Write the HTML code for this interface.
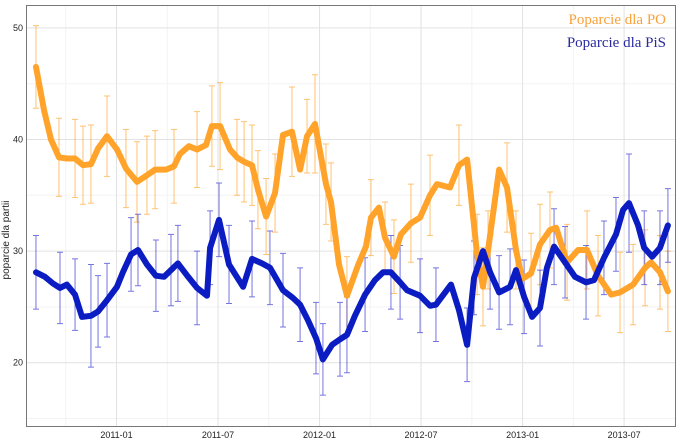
<!DOCTYPE html>
<html><head><meta charset="utf-8"><style>
body{margin:0;background:#fff;}
svg{display:block;font-family:"Liberation Sans",sans-serif;}
</style></head><body>
<svg id="chart" width="684" height="444" viewBox="0 0 684 444">
<rect x="26.5" y="5.5" width="649" height="421" fill="#fff" stroke="none"/>
<g id="grid"></g>
<g id="bars"></g>
<g id="lines"></g>
<rect x="26.5" y="5.5" width="649" height="421" fill="none" stroke="#777" stroke-width="1"/>
<g id="axes"></g>
<text x="9" y="240" transform="rotate(-90 9 240)" text-anchor="middle" font-size="10" fill="#222">poparcie dla partii</text>
<text x="666" y="24" text-anchor="end" font-family="'Liberation Serif',serif" font-size="15" fill="#f9a13a">Poparcie dla PO</text>
<text x="666" y="47" text-anchor="end" font-family="'Liberation Serif',serif" font-size="15" fill="#2a2aa0">Poparcie dla PiS</text>
</svg>
<script>
// months relative to 2011-01
const poMonths=[-4.76,-4.28,-3.87,-3.40,-2.93,-2.45,-1.98,-1.51,-1.09,-0.56,0.03,0.56,1.21,1.80,2.28,2.93,3.40,3.75,4.28,4.76,5.29,5.64,6.12,6.71,7.12,7.54,8.01,8.36,8.84,9.37,9.84,10.37,10.85,11.26,11.73,12.38,12.68,13.15,13.62,14.27,14.74,15.04,15.51,15.87,16.40,16.81,17.40,17.94,18.53,18.94,19.71,20.24,20.72,21.31,21.66,21.96,22.61,23.08,23.61,23.97,24.50,25.03,25.62,25.98,26.63,27.28,27.81,28.46,29.23,29.76,30.53,31.24,31.59,32.12,32.59];
const poValues=[46.5,42.6,40.0,38.4,38.3,38.3,37.7,37.8,39.2,40.3,39.1,37.4,36.2,36.8,37.3,37.3,37.6,38.7,39.4,39.1,39.5,41.2,41.2,39.1,38.4,38.0,37.7,35.5,33.1,35.2,40.4,40.7,37.3,40.3,41.4,36.0,34.4,28.8,26.0,28.7,30.4,33.0,33.9,31.2,29.5,31.5,32.5,33.0,35.0,36.0,35.7,37.7,38.2,29.7,26.8,30.1,37.3,35.7,30.1,27.5,28.0,30.6,31.9,32.1,29.0,30.1,30.1,27.8,26.1,26.3,27.0,28.5,29.0,28.1,26.4];
const poErr=[3.7,0,0,3.5,0,3.5,3.5,3.5,0,3.6,0,3.5,3.6,3.5,3.5,0,3.3,0,0,3.4,0,3.6,3.9,0,3.4,3.6,3.6,3.5,3.4,3.5,0,4.0,0,3.3,4.4,3.6,3.5,0,3.5,0,0,3.4,0,3.2,3.3,0,3.5,0,3.6,0,0,3.6,0,3.6,3.5,3.5,0,4.0,3.5,0,3.6,3.6,3.4,0,3.4,0,3.5,3.6,0,3.6,3.6,3.4,0,3.3,3.6];
const pisMonths=[-4.76,-4.23,-3.75,-3.34,-2.93,-2.45,-2.04,-1.51,-1.09,-0.56,0.03,0.38,0.86,1.27,1.80,2.33,2.81,3.22,3.63,4.23,4.76,5.35,5.53,6.06,6.65,7.48,8.01,8.60,9.07,9.84,10.43,10.85,11.32,11.79,12.20,12.74,13.21,13.62,14.09,14.69,15.28,15.75,16.22,16.76,17.17,17.94,18.53,18.88,19.77,20.24,20.72,21.13,21.66,22.08,22.61,23.26,23.61,24.09,24.56,25.03,25.44,25.86,26.51,27.10,27.75,28.22,28.81,29.52,29.94,30.29,30.83,31.19,31.66,32.12,32.59];
const pisValues=[28.1,27.7,27.1,26.7,27.0,26.1,24.1,24.2,24.6,25.6,26.8,28.1,29.7,30.1,28.8,27.8,27.7,28.3,28.9,27.7,26.7,26.0,30.3,32.8,28.8,26.8,29.3,28.9,28.5,26.5,25.8,25.2,23.8,22.2,20.3,21.6,22.1,22.5,24.2,26.1,27.4,28.1,28.1,27.2,26.5,26.0,25.1,25.2,27.0,24.7,21.6,27.6,30.0,28.1,26.3,26.8,28.3,25.9,24.1,24.9,28.5,30.4,29.0,27.7,27.2,27.4,29.4,31.5,33.7,34.3,32.3,30.3,29.5,30.3,32.3];
const pisErr=[3.3,0,0,3.2,0,3.2,0,4.6,3.2,3.3,0,0,3.3,3.2,0,3.2,0,3.2,3.4,0,3.3,0,3.3,3.3,3.5,0,3.4,0,3.3,3.3,0,3.3,0,3.2,3.2,0,3.3,3.4,0,3.3,0,0,3.3,3.3,0,3.3,0,3.3,0,0,3.3,3.3,0,3.3,3.3,3.4,0,3.3,0,3.4,0,3.4,3.2,0,3.3,0,3.3,3.3,0,4.4,0,3.3,0,3.3,3.3];
const yTicks=[20,30,40,50];
const yMinor=[15,25,35,45];
const xTickMonths=[0,6,12,18,24,30];
const xTickLabels=["2011-01","2011-07","2012-01","2012-07","2013-01","2013-07"];
const xMinorMonths=[-3,3,9,15,21,27];

const NS="http://www.w3.org/2000/svg";
function xs(m){return 116.5+m*16.92;}
function ys(v){return 139.5-(v-40)*11.16;}
function mk(tag,attrs,parent){const e=document.createElementNS(NS,tag);for(const k in attrs)e.setAttribute(k,attrs[k]);parent.appendChild(e);return e;}
const grid=document.getElementById('grid'),axes=document.getElementById('axes'),bars=document.getElementById('bars'),lines=document.getElementById('lines');
yMinor.forEach(v=>{const l=mk('line',{x1:27,x2:675,y1:ys(v),y2:ys(v),stroke:'#f3f3f3','stroke-width':1},grid);

});
xMinorMonths.forEach(m=>{const l=mk('line',{x1:xs(m),x2:xs(m),y1:6,y2:426,stroke:'#f3f3f3','stroke-width':1},grid);

});
yTicks.forEach(v=>{const l=mk('line',{x1:27,x2:675,y1:ys(v),y2:ys(v),stroke:'#e2e2e2','stroke-width':1},grid);


const t=mk('text',{x:23,y:ys(v)+3,'text-anchor':'end','font-size':9,fill:'#222'},axes);t.textContent=v;

});
xTickMonths.forEach((m,i)=>{const l=mk('line',{x1:xs(m),x2:xs(m),y1:6,y2:426,stroke:'#e2e2e2','stroke-width':1},grid);


const t=mk('text',{x:xs(m),y:438,'text-anchor':'middle','font-size':9,fill:'#222'},axes);t.textContent=xTickLabels[i];

});
function drawBars(ms,vs,es,col,name){ms.forEach((m,i)=>{if(!es[i])return;const x=xs(m),y1=ys(vs[i]-es[i]),y2=ys(vs[i]+es[i]);
const g=mk('path',{d:`M${x},${y1}V${y2}M${x-3},${y1}H${x+3}M${x-3},${y2}H${x+3}`,stroke:col,'stroke-width':1,fill:'none','stroke-opacity':0.65},bars);

});}
drawBars(poMonths,poValues,poErr,'#ffa125','po-error-bar');
drawBars(pisMonths,pisValues,pisErr,'#2b2bd0','pis-error-bar');
function drawLine(ms,vs,col,name){const d=ms.map((m,i)=>(i?'L':'M')+xs(m).toFixed(1)+','+ys(vs[i]).toFixed(1)).join('');
const p=mk('path',{d:d,stroke:col,'stroke-width':6,fill:'none','stroke-linejoin':'round','stroke-linecap':'round'},lines);

}
drawLine(poMonths,poValues,'#ffa32b','po-line');
drawLine(pisMonths,pisValues,'#0a1cc2','pis-line');
</script>
</body></html>
